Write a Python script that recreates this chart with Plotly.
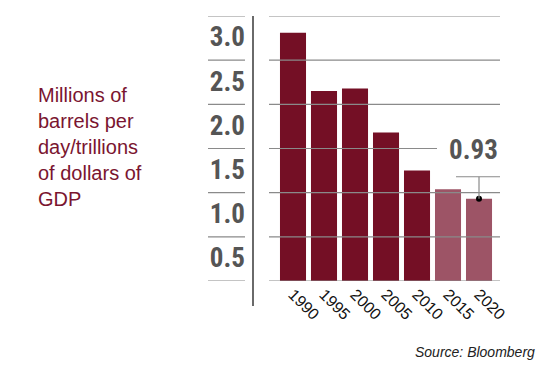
import plotly.graph_objects as go

# ---- data ----
years = ["1990", "1995", "2000", "2005", "2010", "2015", "2020"]
values = [2.81, 2.15, 2.18, 1.68, 1.25, 1.04, 0.93]
projected = [False, False, False, False, False, True, True]
y_ticks = [0.5, 1.0, 1.5, 2.0, 2.5, 3.0]
y_tick_labels = ["0.5", "1.0", "1.5", "2.0", "2.5", "3.0"]
callout_year = "2020"
callout_value = 0.93
callout_label = "0.93"
ylabel_text = "Millions of<br>barrels per<br>day/trillions<br>of dollars of<br>GDP"
source_text = "Source: Bloomberg"

# ---- styles ----
DARK = "#740f25"
LIGHT = "#9d5466"
GRID = "#8a8a8a"
TICKGRAY = "#555555"
NARROW = "Roboto Condensed, DejaVu Sans Condensed, sans-serif"
SANS = "Liberation Sans, Arial, sans-serif"

W, H = 555, 365
L, R, T, B = 270, 55, 16, 84
pw = W - L - R
ph = H - T - B


def px_x(p):
    return (p - L) / pw


def px_y(p):
    return (H - B - p) / ph


bar_colors = [LIGHT if p else DARK for p in projected]

fig = go.Figure()
fig.add_trace(go.Bar(x=years, y=values, marker=dict(color=bar_colors, line=dict(width=0)),
                     hoverinfo="skip"))
ci = years.index(callout_year)
fig.add_trace(go.Scatter(x=[callout_year], y=[callout_value], mode="markers",
                         marker=dict(color="#000000", size=6), hoverinfo="skip"))

shapes = []
for v in [0] + y_ticks:
    shapes.append(dict(type="line", xref="paper", yref="y", x0=px_x(208), x1=px_x(245),
                       y0=v, y1=v, line=dict(color=GRID, width=1.2), layer="above"))
    x1 = px_x(437) if v == 1.5 else 1
    shapes.append(dict(type="line", xref="paper", yref="y", x0=px_x(269), x1=x1,
                       y0=v, y1=v, line=dict(color=GRID, width=1.2), layer="above"))
shapes.append(dict(type="line", xref="paper", yref="paper", x0=px_x(253), x1=px_x(253),
                   y0=px_y(306), y1=1, line=dict(color="#6a6a6a", width=2), layer="above"))
callout_top = 1.18
shapes.append(dict(type="line", xref="x", yref="y", x0=ci, x1=ci, y0=callout_value, y1=callout_top,
                   line=dict(color=GRID, width=1.2), layer="above"))
shapes.append(dict(type="line", xref="paper", yref="y", x0=px_x(456), x1=1,
                   y0=callout_top, y1=callout_top, line=dict(color=GRID, width=1.2), layer="above"))

annotations = [
    dict(text=callout_label, xref="paper", yref="y", x=1, y=1.48, xanchor="right", yanchor="middle",
         showarrow=False, font=dict(family=NARROW, size=27, color=TICKGRAY, weight="bold")),
    dict(text=ylabel_text, xref="paper", yref="paper", x=px_x(36), y=px_y(147), xanchor="left",
         yanchor="middle", align="left", showarrow=False,
         font=dict(family=SANS, size=20, color="#7a1530")),
    dict(text="<i>" + source_text + "</i>", xref="paper", yref="paper", x=px_x(537), y=px_y(352),
         xanchor="right", yanchor="middle", showarrow=False,
         font=dict(family=SANS, size=14, color="#222222")),
]

fig.update_layout(
    width=W, height=H,
    margin=dict(l=L, r=R, t=T, b=B, pad=0),
    paper_bgcolor="white", plot_bgcolor="white",
    showlegend=False,
    bargap=0.16,
    shapes=shapes,
    annotations=annotations,
    xaxis=dict(type="category", range=[-0.742, 6.677], showgrid=False, zeroline=False,
               showline=False, ticks="", tickangle=45,
               tickfont=dict(family=SANS, size=16, color="#111111")),
    yaxis=dict(range=[0, 3.0], tickvals=y_ticks, ticktext=y_tick_labels, showgrid=False,
               zeroline=False, showline=False, ticks="", ticklabelstandoff=24,
               ticklabelshift=21,
               tickfont=dict(family=NARROW, size=27, color=TICKGRAY, weight="bold")),
)

fig.write_html("out.html", config={"displayModeBar": False},
               post_script="document.body.style.margin='0';document.body.style.overflow='hidden';")
